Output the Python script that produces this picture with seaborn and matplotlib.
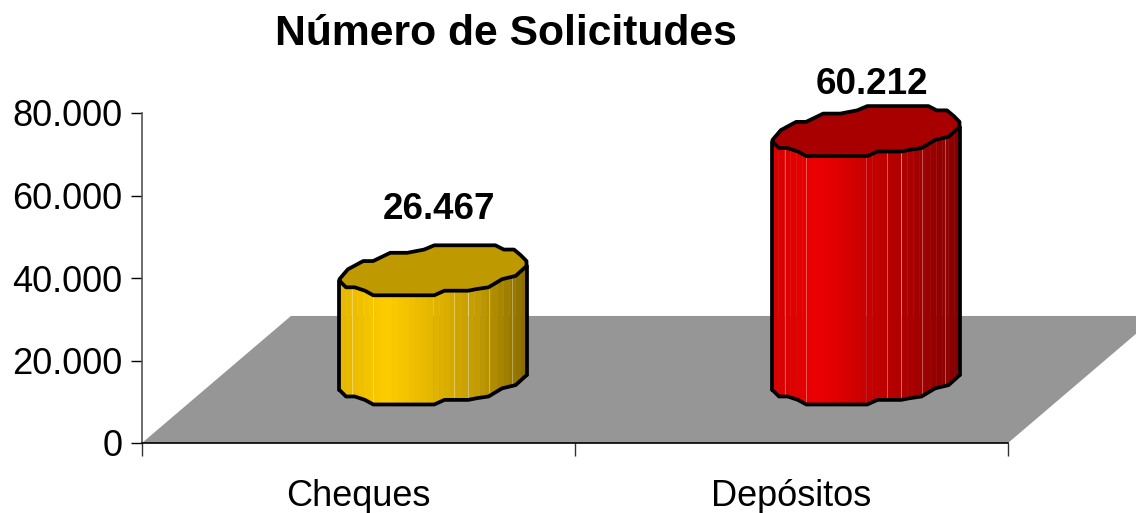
import numpy as np
import matplotlib
matplotlib.use("Agg")
import matplotlib.pyplot as plt
from matplotlib.patches import Polygon
import seaborn as sns

categorias = ["Cheques", "Depósitos"]
valores = [26467, 60212]
y_ticks = [0, 20000, 40000, 60000, 80000]

# side colours left to right, and lid colour
lados = [["#E6B800", "#FFCC00", "#E2B500", "#C29B00", "#8A6E00"],
         ["#D80000", "#EC0000", "#C80000", "#A80000", "#860000"]]
tapas = ["#BF9900", "#A80000"]
label_pad = [61, 47]  # px above the lid centre

W, H = 1136, 513
DEPTH_X = 0.344
DEPTH_Y = 30800
LID_H = 6060

# rough shape of the lid, unit box
lid_up = np.array([(-1, -.355), (-.91, .04), (-.746, .37), (-.64, .37), (-.457, .7), (-.275, .7),
                   (-.094, .83), (.014, 1), (.667, 1), (.757, .83), (.866, .83), (.938, .605), (1, .37)])
lid_lo = np.array([(-1, -.42), (-.93, -.68), (-.837, -.68), (-.728, -.816), (-.638, -1), (.014, -1),
                   (.123, -.816), (.377, -.816), (.467, -.75), (.594, -.68), (.739, -.355),
                   (.884, -.224), (1, .17)])
streaks = [-.87, -.64, .23, .37, .6, .84]

sns.set_theme(style="white")
plt.rcParams["font.family"] = ["Liberation Sans", "DejaVu Sans"]

fig = plt.figure(figsize=(W / 100, H / 100), dpi=100)
ax = fig.add_axes([142 / W, 1 - 443 / H, 866 / W, 330 / H])

sns.barplot(x=categorias, y=valores, width=0.432, ax=ax)
ax.set_xlim(-0.5, 1.5)
ax.set_ylim(0, 80000)

# floor
ax.add_patch(Polygon([(-0.5, 0), (-0.5 + DEPTH_X, DEPTH_Y), (1.5 + DEPTH_X, DEPTH_Y), (1.5, 0)],
                     closed=True, fc="#969696", ec="none", zorder=1, clip_on=False))

for i, bar in enumerate(ax.patches[:2]):
    bar.set_visible(False)
    half = bar.get_width() / 2
    xc = bar.get_x() + half + DEPTH_X / 2
    y0 = DEPTH_Y / 2
    y1 = y0 + bar.get_height()

    # body as vertical strips
    n = 32
    pal = sns.blend_palette(lados[i], n)
    edges = np.linspace(-1, 1, n + 1)
    for k in range(n):
        u = np.linspace(edges[k], edges[k + 1], 4)
        low = np.interp(u, lid_lo[:, 0], lid_lo[:, 1]) * LID_H
        ax.fill_between(xc + u * half, y0 + low, y1 + low, color=pal[k], lw=0.3, zorder=2)
    for u in streaks:
        low = np.interp(u, lid_lo[:, 0], lid_lo[:, 1]) * LID_H
        ax.plot([xc + u * half] * 2, [y0 + low, y1 + low], color="white", alpha=0.35, lw=0.7, zorder=2.2)

    # outline
    ax.plot(xc + lid_lo[:, 0] * half, y0 + lid_lo[:, 1] * LID_H, color="black", lw=2.7, zorder=3,
            solid_joinstyle="round", clip_on=False)
    ax.plot([xc - half, xc - half], [y0 + lid_lo[0, 1] * LID_H, y1 + lid_lo[0, 1] * LID_H],
            color="black", lw=2.7, zorder=3)
    ax.plot([xc + half, xc + half], [y0 + lid_lo[-1, 1] * LID_H, y1 + lid_lo[-1, 1] * LID_H],
            color="black", lw=2.7, zorder=3)
    lid = np.vstack([lid_up, lid_lo[::-1]])
    ax.add_patch(Polygon(np.column_stack([xc + lid[:, 0] * half, y1 + lid[:, 1] * LID_H]),
                         closed=True, fc=tapas[i], ec="black", lw=2.7, zorder=4, clip_on=False,
                         joinstyle="round"))

    ax.annotate(f"{valores[i]:,}".replace(",", "."), (xc, y1),
                xytext=(4, label_pad[i] * 0.72), textcoords="offset points",
                ha="center", va="center", fontsize=26.5, fontweight="bold",
                color="black", annotation_clip=False, zorder=5)

# axes
sns.despine(ax=ax, top=True, right=True)
ax.spines["left"].set_color("#555555")
ax.spines["left"].set_linewidth(1.2)
ax.spines["bottom"].set_color("black")
ax.spines["bottom"].set_linewidth(1.2)
for s in ax.spines.values():
    s.set_zorder(2.5)

ax.set_yticks(y_ticks)
ax.set_yticklabels([f"{t:,}".replace(",", ".") for t in y_ticks], fontsize=26, color="black")
ax.tick_params(axis="y", left=True, length=8, width=1, color="black", pad=6)

ax.set_xticks([0, 1])
ax.set_xticklabels(categorias, fontsize=26, color="black")
ax.set_xticks([-0.5, 0.5, 1.5], minor=True)
ax.tick_params(axis="x", which="major", bottom=False, pad=20)
ax.tick_params(axis="x", which="minor", bottom=True, length=9, width=1, color="#333333")

fig.text(506 / W, 1 - 34 / H, "Número de Solicitudes", ha="center", va="center",
         fontsize=30.7, fontweight="bold", color="black")

fig.savefig("out.png", dpi=100, facecolor="white")
